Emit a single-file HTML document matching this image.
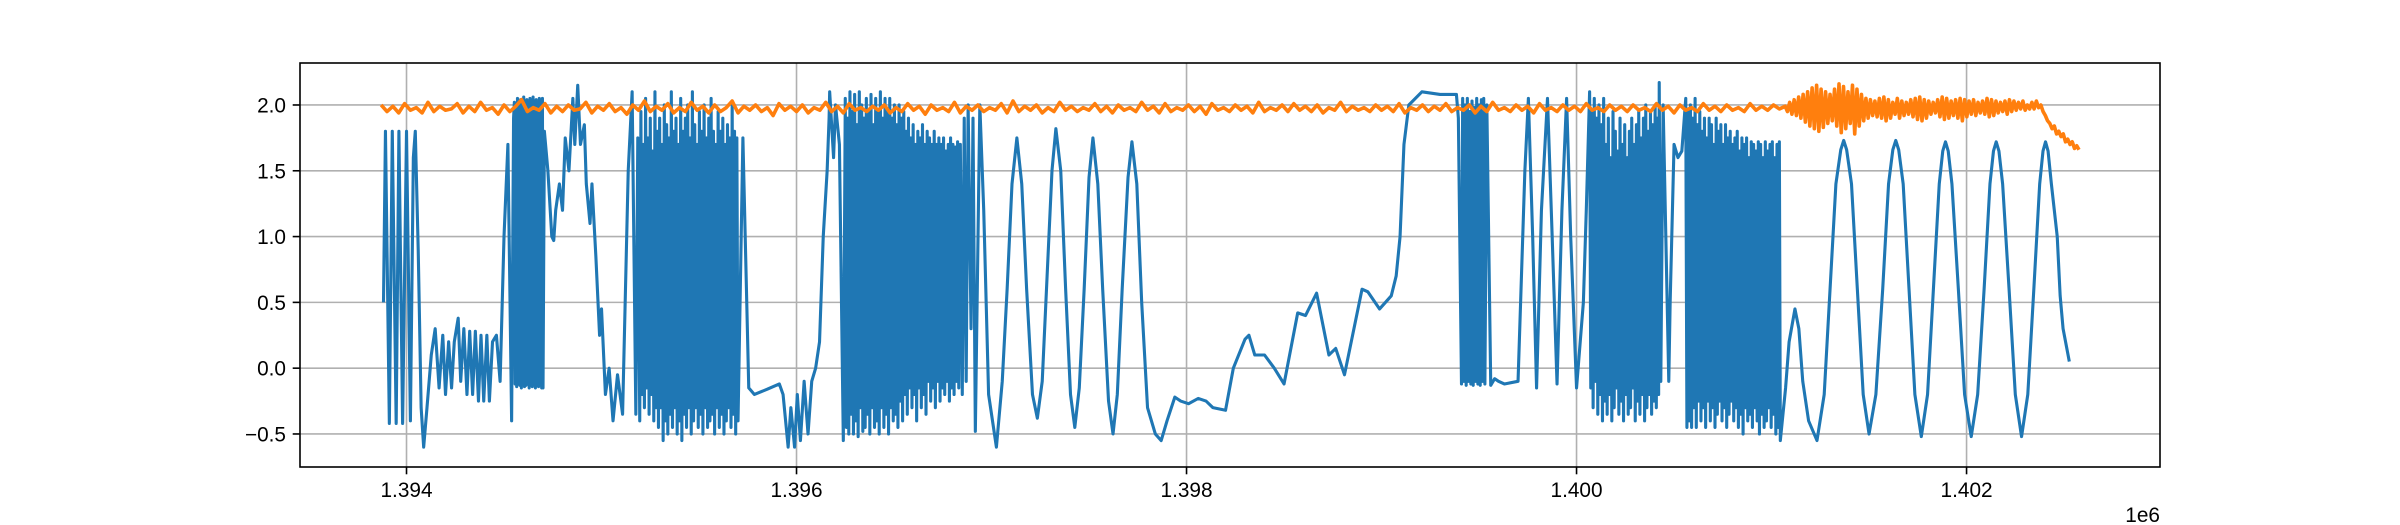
<!DOCTYPE html>
<html><head><meta charset="utf-8"><style>
html,body{margin:0;padding:0;background:#fff;}
svg{display:block;font-family:"Liberation Sans","DejaVu Sans",sans-serif;}
</style></head><body>
<svg id="chart" width="2400" height="525" viewBox="0 0 2400 525" xmlns="http://www.w3.org/2000/svg">
<rect x="0" y="0" width="2400" height="525" fill="#fff"/>
<g id="grid"></g>
<g id="series"></g>
<rect x="300" y="63" width="1860" height="404" fill="none" stroke="#000" stroke-width="1.6"/>
<g id="ticks"></g>
<text x="2160" y="522" text-anchor="end" font-size="20.8" fill="#000">1e6</text>
</svg>
<script>
const xTicks = [1394000, 1396000, 1398000, 1400000, 1402000];
const xTickLabels = ["1.394", "1.396", "1.398", "1.400", "1.402"];
const yTicks = [-0.5, 0.0, 0.5, 1.0, 1.5, 2.0];
const yTickLabels = ["\u22120.5", "0.0", "0.5", "1.0", "1.5", "2.0"];
const xDomain = [1393453.8, 1402992];
const yDomain = [-0.751, 2.319];

const blueHead = [[1393.882,0.5],[1393.892,1.8],[1393.912,-0.42],[1393.927,1.8],[1393.947,-0.42],[1393.961,1.8],[1393.98,-0.42],[1394.0,1.8],[1394.02,-0.4],[1394.035,1.6],[1394.045,1.8],[1394.06,0.9],[1394.075,-0.3],[1394.088,-0.6],[1394.105,-0.3],[1394.127,0.1],[1394.147,0.3],[1394.167,-0.15],[1394.186,0.25],[1394.2,-0.2],[1394.216,0.2],[1394.231,-0.15],[1394.245,0.2],[1394.265,0.38],[1394.278,-0.1],[1394.294,0.3],[1394.31,-0.2],[1394.324,0.28],[1394.339,-0.2],[1394.353,0.28],[1394.369,-0.25],[1394.382,0.25],[1394.396,-0.25],[1394.412,0.25],[1394.425,-0.25],[1394.441,0.2],[1394.461,0.25],[1394.48,-0.1],[1394.5,1.0],[1394.52,1.7],[1394.539,-0.4],[1394.549,1.9]];
const blueD1 = [[1394.553,2.02],[1394.557,-0.12],[1394.561,1.95],[1394.565,-0.14],[1394.569,2.05],[1394.573,-0.1],[1394.577,1.9],[1394.581,-0.13],[1394.585,2.04],[1394.589,-0.15],[1394.593,1.98],[1394.597,-0.12],[1394.601,2.06],[1394.605,-0.14],[1394.609,1.92],[1394.613,-0.13],[1394.617,2.04],[1394.621,-0.1],[1394.625,1.97],[1394.629,-0.15],[1394.633,2.05],[1394.637,-0.13],[1394.641,1.9],[1394.645,-0.14],[1394.649,2.06],[1394.653,-0.12],[1394.657,1.95],[1394.661,-0.15],[1394.665,2.04],[1394.669,-0.13],[1394.673,2.0],[1394.677,-0.14],[1394.681,2.05],[1394.685,-0.12],[1394.689,1.9],[1394.693,-0.15],[1394.697,2.05],[1394.7,-0.15],[1394.707,1.8],[1394.725,1.5],[1394.745,1.0],[1394.755,0.97],[1394.765,1.2],[1394.784,1.4],[1394.8,1.2],[1394.814,1.75],[1394.833,1.5],[1394.853,2.05],[1394.863,1.7],[1394.878,2.15],[1394.892,1.7],[1394.912,1.85],[1394.922,1.4],[1394.941,1.1],[1394.951,1.4],[1394.971,0.85],[1394.99,0.25],[1395.0,0.45],[1395.02,-0.2],[1395.039,0.0],[1395.059,-0.4],[1395.082,-0.05],[1395.108,-0.35],[1395.137,1.5],[1395.157,2.1],[1395.176,-0.35],[1395.186,1.75],[1395.196,-0.4]];
const blueD2 = [[1395.202,1.95],[1395.208,-0.2],[1395.214,1.7],[1395.22,-0.3],[1395.226,2.05],[1395.232,-0.15],[1395.238,1.75],[1395.244,-0.35],[1395.25,1.9],[1395.256,-0.2],[1395.262,1.65],[1395.268,-0.4],[1395.274,2.1],[1395.28,-0.3],[1395.286,1.8],[1395.292,-0.45],[1395.298,1.9],[1395.304,-0.3],[1395.31,1.7],[1395.316,-0.55],[1395.322,2.0],[1395.328,-0.4],[1395.334,1.85],[1395.34,-0.5],[1395.346,1.75],[1395.352,-0.35],[1395.358,2.1],[1395.364,-0.45],[1395.37,1.8],[1395.376,-0.3],[1395.382,1.9],[1395.388,-0.5],[1395.394,1.7],[1395.4,-0.4],[1395.406,2.05],[1395.412,-0.55],[1395.418,1.8],[1395.424,-0.35],[1395.43,1.9],[1395.436,-0.45],[1395.442,2.0],[1395.448,-0.3],[1395.454,1.75],[1395.46,-0.5],[1395.466,2.1],[1395.472,-0.4],[1395.478,1.85],[1395.484,-0.3],[1395.49,1.7],[1395.496,-0.45],[1395.502,1.95],[1395.508,-0.35],[1395.514,1.8],[1395.52,-0.5],[1395.526,2.0],[1395.532,-0.3],[1395.538,1.75],[1395.544,-0.45],[1395.55,1.9],[1395.556,-0.4],[1395.562,2.05],[1395.568,-0.35],[1395.574,1.8],[1395.58,-0.5],[1395.586,1.7],[1395.592,-0.3],[1395.598,1.95],[1395.604,-0.45],[1395.61,1.8],[1395.616,-0.35],[1395.622,1.9],[1395.628,-0.5],[1395.634,1.7],[1395.64,-0.4],[1395.646,1.85],[1395.652,-0.3],[1395.658,1.75],[1395.664,-0.45],[1395.67,2.0],[1395.676,-0.35],[1395.682,1.8],[1395.688,-0.5],[1395.694,1.75],[1395.7,-0.4],[1395.725,1.75],[1395.755,-0.15],[1395.784,-0.2],[1395.85,-0.16],[1395.912,-0.12],[1395.931,-0.2],[1395.957,-0.6],[1395.971,-0.3],[1395.99,-0.6],[1396.004,-0.2],[1396.02,-0.55],[1396.039,-0.1],[1396.059,-0.5],[1396.078,-0.1],[1396.098,0.0],[1396.118,0.2],[1396.137,1.0],[1396.157,1.5],[1396.167,1.9],[1396.17,2.1],[1396.19,1.6],[1396.2,2.0],[1396.22,1.7],[1396.24,-0.55]];
const blueD3 = [[1396.25,2.05],[1396.256,-0.45],[1396.262,1.9],[1396.268,-0.5],[1396.274,2.1],[1396.28,-0.35],[1396.286,1.95],[1396.292,-0.5],[1396.298,2.08],[1396.304,-0.4],[1396.31,1.85],[1396.316,-0.52],[1396.322,2.1],[1396.328,-0.3],[1396.334,2.0],[1396.34,-0.48],[1396.346,1.9],[1396.352,-0.45],[1396.358,2.05],[1396.364,-0.35],[1396.37,1.95],[1396.376,-0.5],[1396.382,2.08],[1396.388,-0.3],[1396.394,1.85],[1396.4,-0.45],[1396.406,2.05],[1396.412,-0.4],[1396.418,1.95],[1396.424,-0.5],[1396.43,2.1],[1396.436,-0.3],[1396.442,1.9],[1396.448,-0.45],[1396.454,2.05],[1396.46,-0.35],[1396.466,1.95],[1396.472,-0.5],[1396.478,2.05],[1396.484,-0.3],[1396.49,1.9],[1396.496,-0.4],[1396.502,2.0],[1396.508,-0.35],[1396.514,1.85],[1396.52,-0.45],[1396.526,2.0],[1396.532,-0.25],[1396.538,1.9],[1396.544,-0.4],[1396.55,1.95],[1396.556,-0.2],[1396.562,1.8],[1396.568,-0.35],[1396.574,1.9],[1396.58,-0.15],[1396.586,1.75],[1396.592,-0.3],[1396.598,1.85],[1396.604,-0.2],[1396.61,1.7],[1396.616,-0.4],[1396.622,1.8],[1396.628,-0.15],[1396.634,1.75],[1396.64,-0.3],[1396.646,1.85],[1396.652,-0.2],[1396.658,1.7],[1396.664,-0.35],[1396.67,1.8],[1396.676,-0.1],[1396.682,1.75],[1396.688,-0.25],[1396.694,1.7],[1396.7,-0.15],[1396.706,1.8],[1396.712,-0.3],[1396.718,1.7],[1396.724,-0.1],[1396.73,1.75],[1396.736,-0.25],[1396.742,1.7],[1396.748,-0.15],[1396.754,1.75],[1396.76,-0.2],[1396.766,1.65],[1396.772,-0.1],[1396.778,1.7],[1396.784,-0.25],[1396.79,1.75],[1396.796,-0.15],[1396.802,1.7],[1396.808,-0.2],[1396.814,1.68],[1396.82,-0.1],[1396.826,1.72],[1396.832,-0.15],[1396.84,1.7],[1396.85,-0.2],[1396.86,1.9],[1396.87,-0.1],[1396.88,2.0],[1396.895,0.3],[1396.905,1.9],[1396.917,-0.48],[1396.94,2.0],[1396.96,1.2],[1396.985,-0.2],[1397.025,-0.6],[1397.055,-0.1],[1397.08,0.6],[1397.105,1.4],[1397.13,1.75],[1397.155,1.4],[1397.18,0.6],[1397.21,-0.2],[1397.235,-0.38],[1397.26,-0.1],[1397.285,0.7],[1397.31,1.5],[1397.33,1.82],[1397.355,1.5],[1397.38,0.6],[1397.405,-0.2],[1397.427,-0.45],[1397.45,-0.15],[1397.475,0.6],[1397.5,1.45],[1397.52,1.75],[1397.545,1.4],[1397.57,0.6],[1397.6,-0.25],[1397.623,-0.5],[1397.645,-0.2],[1397.67,0.6],[1397.7,1.45],[1397.72,1.72],[1397.745,1.4],[1397.77,0.5],[1397.8,-0.3],[1397.84,-0.5],[1397.87,-0.55],[1397.9,-0.4],[1397.94,-0.22],[1397.97,-0.25],[1398.01,-0.27],[1398.06,-0.23],[1398.1,-0.25],[1398.135,-0.3],[1398.2,-0.32],[1398.24,0.0],[1398.3,0.22],[1398.32,0.25],[1398.35,0.1],[1398.4,0.1],[1398.45,0.0],[1398.5,-0.12],[1398.57,0.42],[1398.61,0.4],[1398.667,0.57],[1398.73,0.1],[1398.765,0.15],[1398.81,-0.05],[1398.9,0.6],[1398.93,0.58],[1398.99,0.45],[1399.05,0.55],[1399.075,0.7],[1399.095,1.0],[1399.115,1.7],[1399.14,2.0],[1399.207,2.1],[1399.3,2.08],[1399.384,2.08],[1399.394,1.9],[1399.41,-0.12]];
const blueD4 = [[1399.416,2.05],[1399.422,-0.1],[1399.428,2.0],[1399.434,-0.13],[1399.44,2.05],[1399.446,-0.1],[1399.452,1.95],[1399.458,-0.12],[1399.464,2.03],[1399.47,-0.13],[1399.476,1.98],[1399.482,-0.1],[1399.488,2.05],[1399.494,-0.12],[1399.5,2.0],[1399.506,-0.13],[1399.512,2.04],[1399.518,-0.1],[1399.524,2.05],[1399.53,-0.12],[1399.54,2.0],[1399.56,-0.13],[1399.58,-0.08],[1399.6,-0.1],[1399.63,-0.12],[1399.7,-0.1],[1399.735,1.5],[1399.753,2.05],[1399.775,1.0],[1399.795,-0.15],[1399.82,1.2],[1399.851,2.05],[1399.875,1.0],[1399.9,-0.12],[1399.925,1.2],[1399.949,2.05],[1399.97,1.0],[1400.0,-0.15],[1400.035,0.5],[1400.05,1.2],[1400.067,2.1]];
const blueD5 = [[1400.073,-0.15],[1400.079,1.95],[1400.085,-0.3],[1400.091,2.05],[1400.097,-0.1],[1400.103,1.9],[1400.109,-0.35],[1400.115,2.0],[1400.121,-0.2],[1400.127,1.85],[1400.133,-0.4],[1400.139,2.05],[1400.145,-0.25],[1400.151,1.7],[1400.157,-0.35],[1400.163,1.9],[1400.169,-0.2],[1400.175,1.6],[1400.181,-0.4],[1400.187,1.95],[1400.193,-0.3],[1400.199,1.8],[1400.205,-0.15],[1400.211,1.65],[1400.217,-0.35],[1400.223,1.9],[1400.229,-0.25],[1400.235,1.7],[1400.241,-0.4],[1400.247,1.85],[1400.253,-0.2],[1400.259,1.6],[1400.265,-0.35],[1400.271,1.8],[1400.277,-0.3],[1400.283,1.9],[1400.289,-0.15],[1400.295,1.7],[1400.301,-0.4],[1400.307,1.85],[1400.313,-0.25],[1400.319,1.95],[1400.325,-0.35],[1400.331,1.75],[1400.337,-0.2],[1400.343,1.9],[1400.349,-0.4],[1400.355,2.0],[1400.361,-0.3],[1400.367,1.8],[1400.373,-0.2],[1400.379,1.95],[1400.385,-0.35],[1400.391,1.85],[1400.397,-0.25],[1400.403,2.0],[1400.409,-0.3],[1400.415,1.9],[1400.421,-0.2],[1400.424,2.17],[1400.432,-0.1],[1400.444,2.0],[1400.473,-0.1],[1400.48,0.5],[1400.5,1.7],[1400.52,1.6],[1400.54,1.65],[1400.56,2.05]];
const blueD6 = [[1400.566,-0.45],[1400.572,1.95],[1400.578,-0.4],[1400.584,2.0],[1400.59,-0.45],[1400.596,1.9],[1400.602,-0.3],[1400.608,2.05],[1400.614,-0.45],[1400.62,1.85],[1400.626,-0.25],[1400.632,1.95],[1400.638,-0.4],[1400.644,1.8],[1400.65,-0.3],[1400.656,1.9],[1400.662,-0.45],[1400.668,1.75],[1400.674,-0.25],[1400.68,1.9],[1400.686,-0.4],[1400.692,1.85],[1400.698,-0.3],[1400.704,1.7],[1400.71,-0.45],[1400.716,1.9],[1400.722,-0.35],[1400.728,1.8],[1400.734,-0.25],[1400.74,1.85],[1400.746,-0.4],[1400.752,1.7],[1400.758,-0.3],[1400.764,1.85],[1400.77,-0.45],[1400.776,1.75],[1400.782,-0.35],[1400.788,1.8],[1400.794,-0.25],[1400.8,1.7],[1400.806,-0.4],[1400.812,1.75],[1400.818,-0.3],[1400.824,1.8],[1400.83,-0.45],[1400.836,1.65],[1400.842,-0.35],[1400.848,1.75],[1400.854,-0.5],[1400.86,1.7],[1400.866,-0.3],[1400.872,1.75],[1400.878,-0.4],[1400.884,1.6],[1400.89,-0.35],[1400.896,1.72],[1400.902,-0.45],[1400.908,1.7],[1400.914,-0.3],[1400.92,1.65],[1400.926,-0.4],[1400.932,1.72],[1400.938,-0.5],[1400.944,1.7],[1400.95,-0.35],[1400.956,1.6],[1400.962,-0.45],[1400.968,1.72],[1400.974,-0.4],[1400.98,1.65],[1400.986,-0.3],[1400.992,1.7],[1400.998,-0.45],[1401.004,1.72],[1401.01,-0.35],[1401.016,1.6],[1401.022,-0.5],[1401.028,1.7],[1401.034,-0.45],[1401.04,1.72],[1401.045,-0.55]];
const blueTail = [[1401.072,-0.15],[1401.09,0.2],[1401.12,0.45],[1401.14,0.3],[1401.16,-0.1],[1401.19,-0.4],[1401.233,-0.55],[1401.27,-0.2],[1401.3,0.6],[1401.33,1.4],[1401.355,1.66],[1401.37,1.73],[1401.385,1.66],[1401.41,1.4],[1401.44,0.6],[1401.47,-0.2],[1401.5,-0.5],[1401.535,-0.2],[1401.57,0.6],[1401.6,1.4],[1401.622,1.66],[1401.637,1.73],[1401.652,1.66],[1401.675,1.4],[1401.705,0.6],[1401.735,-0.2],[1401.768,-0.52],[1401.8,-0.2],[1401.83,0.6],[1401.86,1.4],[1401.878,1.65],[1401.892,1.72],[1401.906,1.65],[1401.925,1.4],[1401.958,0.6],[1401.99,-0.2],[1402.024,-0.52],[1402.057,-0.2],[1402.09,0.6],[1402.12,1.4],[1402.138,1.65],[1402.152,1.72],[1402.166,1.65],[1402.185,1.4],[1402.218,0.6],[1402.25,-0.2],[1402.282,-0.52],[1402.314,-0.2],[1402.345,0.6],[1402.375,1.4],[1402.392,1.65],[1402.405,1.72],[1402.418,1.65],[1402.435,1.4],[1402.465,1.0],[1402.48,0.55],[1402.495,0.3],[1402.527,0.05]];

const orangeStart = 1393.87;
const orangeStep = 0.03;
const orangeNoise = [
2.0,1.95,1.99,1.94,2.01,1.96,1.98,1.94,2.02,1.95,1.99,1.96,
1.97,2.01,1.94,1.99,1.95,2.02,1.96,1.98,1.93,2.0,1.95,1.99,
2.04,1.95,1.98,1.96,2.01,1.94,1.99,1.95,2.0,1.96,1.97,2.02,
1.94,1.99,1.96,2.01,1.95,1.98,1.93,2.0,1.96,2.03,1.95,1.99,
1.96,2.01,1.94,1.98,1.95,2.02,1.96,1.99,1.94,2.0,1.95,1.98,
2.03,1.94,1.99,1.96,2.0,1.95,1.98,1.92,2.01,1.96,1.99,1.95,
2.0,1.94,1.98,1.96,2.02,1.95,1.99,1.94,2.01,1.96,1.98,1.95,
1.99,1.96,2.0,1.94,1.98,1.95,2.01,1.96,1.99,1.93,2.0,1.96,
1.98,1.95,2.02,1.94,1.99,1.96,2.0,1.95,1.98,1.96,2.01,1.94,
2.03,1.95,1.99,1.96,2.0,1.94,1.98,1.95,2.02,1.96,1.99,1.95,
1.98,1.96,2.01,1.95,1.99,1.94,2.0,1.96,1.98,1.95,2.02,1.96,
1.99,1.94,2.01,1.95,1.98,1.96,2.0,1.95,1.99,1.93,2.01,1.96,
1.98,1.95,2.0,1.96,1.99,1.94,2.02,1.95,1.98,1.96,2.0,1.95,
2.01,1.96,1.99,1.95,2.0,1.94,1.98,1.96,2.02,1.95,1.99,1.96,
1.98,1.95,2.0,1.96,1.99,1.95,2.01,1.94,1.98,1.96,2.0,1.95,
1.99,1.96,2.01,1.95,1.98,1.96,2.0,1.94,1.99,1.95,2.02,1.96,
1.98,1.95,2.0,1.96,1.99,1.94,2.01,1.96,1.98,1.95,2.0,1.96,
1.99,1.95,2.01,1.96,1.98,1.95,2.0,1.96,1.99,1.95,2.0,1.96,
1.98,1.95,2.01,1.96,1.99,1.94,2.0,1.96,1.98,1.95,2.01,1.96,
1.99,1.95,2.0,1.96,1.98,1.95,2.01,1.96,1.99,1.96,2.0,1.97];
const orangeTailStart = 1401.07;
const orangeTailStep = 0.0115;
const orangeTail = [1.99,1.95,2.02,1.93,2.04,1.92,2.06,1.9,2.08,1.87,
2.1,1.84,2.13,1.82,2.15,1.8,2.12,1.83,2.1,1.86,2.08,1.88,2.12,1.84,2.16,1.79,2.14,1.82,2.1,1.86,
2.15,1.78,2.12,1.84,2.08,1.88,2.05,1.9,2.04,1.92,2.03,1.91,2.05,1.9,2.06,1.88,2.04,1.9,2.02,1.93,
2.05,1.9,2.03,1.92,2.02,1.93,2.04,1.91,2.05,1.89,2.06,1.88,2.04,1.9,2.03,1.93,2.02,1.94,2.04,1.91,
2.06,1.89,2.05,1.9,2.03,1.92,2.04,1.9,2.05,1.88,2.04,1.91,2.03,1.93,2.04,1.92,2.02,1.94,2.03,1.93,
2.05,1.91,2.04,1.92,2.03,1.94,2.02,1.95,2.03,1.93,2.04,1.95,2.03,1.96,2.02,1.97,2.03,1.96,2.0,1.97,
2.02,1.97,2.03,1.98,2.0,1.95,1.92,1.88,1.86,1.82,1.84,1.78,1.8,1.76,1.78,1.72,1.74,1.7,1.72,1.67,1.69,1.66];

const AX = {left:300, right:2160, top:63, bottom:467};
function xs(v){ return AX.left + (v - xDomain[0]) / (xDomain[1]-xDomain[0]) * (AX.right-AX.left); }
function ys(v){ return AX.bottom - (v - yDomain[0]) / (yDomain[1]-yDomain[0]) * (AX.bottom-AX.top); }
const NS = "http://www.w3.org/2000/svg";
const grid = document.getElementById('grid');
const ticks = document.getElementById('ticks');
const series = document.getElementById('series');

xTicks.forEach((t,i)=>{
  const x = xs(t);
  const g = document.createElementNS(NS,'line');
  g.setAttribute('x1',x);g.setAttribute('x2',x);g.setAttribute('y1',AX.top);g.setAttribute('y2',AX.bottom);
  g.setAttribute('stroke','#b0b0b0');g.setAttribute('stroke-width','1.6');
  
  
  grid.appendChild(g);
  const tk = document.createElementNS(NS,'line');
  tk.setAttribute('x1',x);tk.setAttribute('x2',x);tk.setAttribute('y1',AX.bottom);tk.setAttribute('y2',AX.bottom+7.3);
  tk.setAttribute('stroke','#000');tk.setAttribute('stroke-width','1.6');
  
  
  ticks.appendChild(tk);
  const tx = document.createElementNS(NS,'text');
  tx.setAttribute('x',x);tx.setAttribute('y',AX.bottom+30);tx.setAttribute('text-anchor','middle');tx.setAttribute('font-size','20.8');
  tx.textContent = xTickLabels[i];
  
  
  ticks.appendChild(tx);
});
yTicks.forEach((t,i)=>{
  const y = ys(t);
  const g = document.createElementNS(NS,'line');
  g.setAttribute('x1',AX.left);g.setAttribute('x2',AX.right);g.setAttribute('y1',y);g.setAttribute('y2',y);
  g.setAttribute('stroke','#b0b0b0');g.setAttribute('stroke-width','1.6');
  
  
  grid.appendChild(g);
  const tk = document.createElementNS(NS,'line');
  tk.setAttribute('x1',AX.left-7.3);tk.setAttribute('x2',AX.left);tk.setAttribute('y1',y);tk.setAttribute('y2',y);
  tk.setAttribute('stroke','#000');tk.setAttribute('stroke-width','1.6');
  
  
  ticks.appendChild(tk);
  const tx = document.createElementNS(NS,'text');
  tx.setAttribute('x',AX.left-14);tx.setAttribute('y',y+7.5);tx.setAttribute('text-anchor','end');tx.setAttribute('font-size','20.8');
  tx.textContent = yTickLabels[i];
  
  
  ticks.appendChild(tx);
});

const clip = document.createElementNS(NS,'clipPath');
clip.setAttribute('id','plotclip');
const cr = document.createElementNS(NS,'rect');
cr.setAttribute('x',AX.left);cr.setAttribute('y',AX.top);cr.setAttribute('width',AX.right-AX.left);cr.setAttribute('height',AX.bottom-AX.top);
clip.appendChild(cr);
document.getElementById('chart').appendChild(clip);
series.setAttribute('clip-path','url(#plotclip)');

const bluePts = [].concat(blueHead, blueD1, blueD2, blueD3, blueD4, blueD5, blueD6, blueTail);
let d = '';
bluePts.forEach((p,i)=>{ d += (i?'L':'M') + xs(p[0]*1000).toFixed(2) + ',' + ys(p[1]).toFixed(2); });
const bp = document.createElementNS(NS,'path');
bp.setAttribute('d',d);bp.setAttribute('fill','none');bp.setAttribute('stroke','#1f77b4');bp.setAttribute('stroke-width','3.1');bp.setAttribute('stroke-linejoin','round');


series.appendChild(bp);

let od = '';
orangeNoise.forEach((v,i)=>{ od += (i?'L':'M') + xs((orangeStart + i*orangeStep)*1000).toFixed(2) + ',' + ys(v).toFixed(2); });
orangeTail.forEach((v,i)=>{ od += 'L' + xs((orangeTailStart + i*orangeTailStep)*1000).toFixed(2) + ',' + ys(v).toFixed(2); });
const op = document.createElementNS(NS,'path');
op.setAttribute('d',od);op.setAttribute('fill','none');op.setAttribute('stroke','#ff7f0e');op.setAttribute('stroke-width','3.6');op.setAttribute('stroke-linejoin','round');


series.appendChild(op);
</script>
</body></html>
